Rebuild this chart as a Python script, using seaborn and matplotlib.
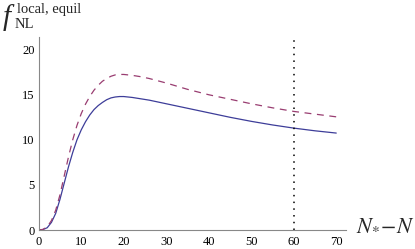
import numpy as np
import pandas as pd
import matplotlib
matplotlib.use("Agg")
import matplotlib.pyplot as plt
import seaborn as sns
from matplotlib.ticker import MultipleLocator

# values
x_vals = [0, 1, 2, 3, 4, 5, 6, 7, 8, 9, 10, 11, 12, 13, 14, 15, 16, 17, 18, 19, 20,
          22, 24, 26, 28, 30, 35, 40, 45, 50, 55, 60, 65, 70]
f_solid = [0, 0.05, 0.25, 0.85, 1.85, 3.4, 5.2, 7.0, 8.6, 10.0, 11.1, 12.0, 12.75, 13.35,
           13.8, 14.15, 14.45, 14.65, 14.75, 14.8, 14.8,
           14.7, 14.55, 14.4, 14.2, 14.0, 13.5, 13.0, 12.5, 12.05, 11.65, 11.3, 11.0, 10.75]
f_dashed = [0, 0.07, 0.35, 1.05, 2.2, 3.9, 6.0, 8.1, 10.0, 11.6, 12.9, 13.95, 14.8, 15.5,
            16.05, 16.5, 16.8, 17.05, 17.2, 17.25, 17.25,
            17.15, 17.0, 16.8, 16.55, 16.3, 15.6, 15.0, 14.5, 14.0, 13.55, 13.15, 12.85, 12.55]
x_mark = 60

sns.set_style("white")
plt.rcParams["font.family"] = ["Liberation Serif", "DejaVu Serif"]
plt.rcParams["mathtext.fontset"] = "stix"

df = pd.DataFrame({"x": x_vals, "solid": f_solid, "dashed": f_dashed})

fig = plt.figure(figsize=(4.15, 2.49), dpi=100)
ax = fig.add_axes([0.0933, 0.0763, 0.7405, 0.775])

sns.lineplot(data=df, x="x", y="solid", ax=ax, color="#3d3d99", lw=0.9)
sns.lineplot(data=df, x="x", y="dashed", ax=ax, color="#993d71", lw=0.9)
ax.lines[-1].set_dashes((5.5, 4.5))
ax.axvline(x_mark, ymin=0, ymax=0.985, color="black", lw=1.1, ls=(0, (1, 3.4)))

ax.set_xlim(0, 72.3)
ax.set_ylim(0, 21.4)
ax.xaxis.set_major_locator(MultipleLocator(10))
ax.xaxis.set_minor_locator(MultipleLocator(2))
ax.yaxis.set_major_locator(MultipleLocator(5))
ax.yaxis.set_minor_locator(MultipleLocator(1))

for side in ["top", "right"]:
    ax.spines[side].set_visible(False)
for side in ["left", "bottom"]:
    ax.spines[side].set_color("#888888")
    ax.spines[side].set_linewidth(0.8)
ax.tick_params(which="both", direction="in", color="#888888", width=0.6,
               labelsize=9, labelcolor="black")
ax.tick_params(axis="x", which="major", length=4, pad=4)
ax.tick_params(axis="y", which="major", length=4, pad=3)
ax.tick_params(which="minor", length=2)
ax.set_xlabel("")
ax.set_ylabel("")

# axis labels, Mathematica style
fig.text(0.858, 0.075, r"$N_{*}\!-\!N$", fontsize=16, ha="left", va="baseline")
fig.text(0.006, 0.9, "f", fontsize=21, style="italic", ha="left", va="baseline",
         family="Liberation Serif")
fig.text(0.035, 0.888, "NL", fontsize=10.5, ha="left", va="baseline",
         family="Liberation Serif")
fig.text(0.042, 0.948, "local, equil", fontsize=10.5, ha="left", va="baseline",
         family="Liberation Serif")

fig.savefig("out.png", dpi=100)
